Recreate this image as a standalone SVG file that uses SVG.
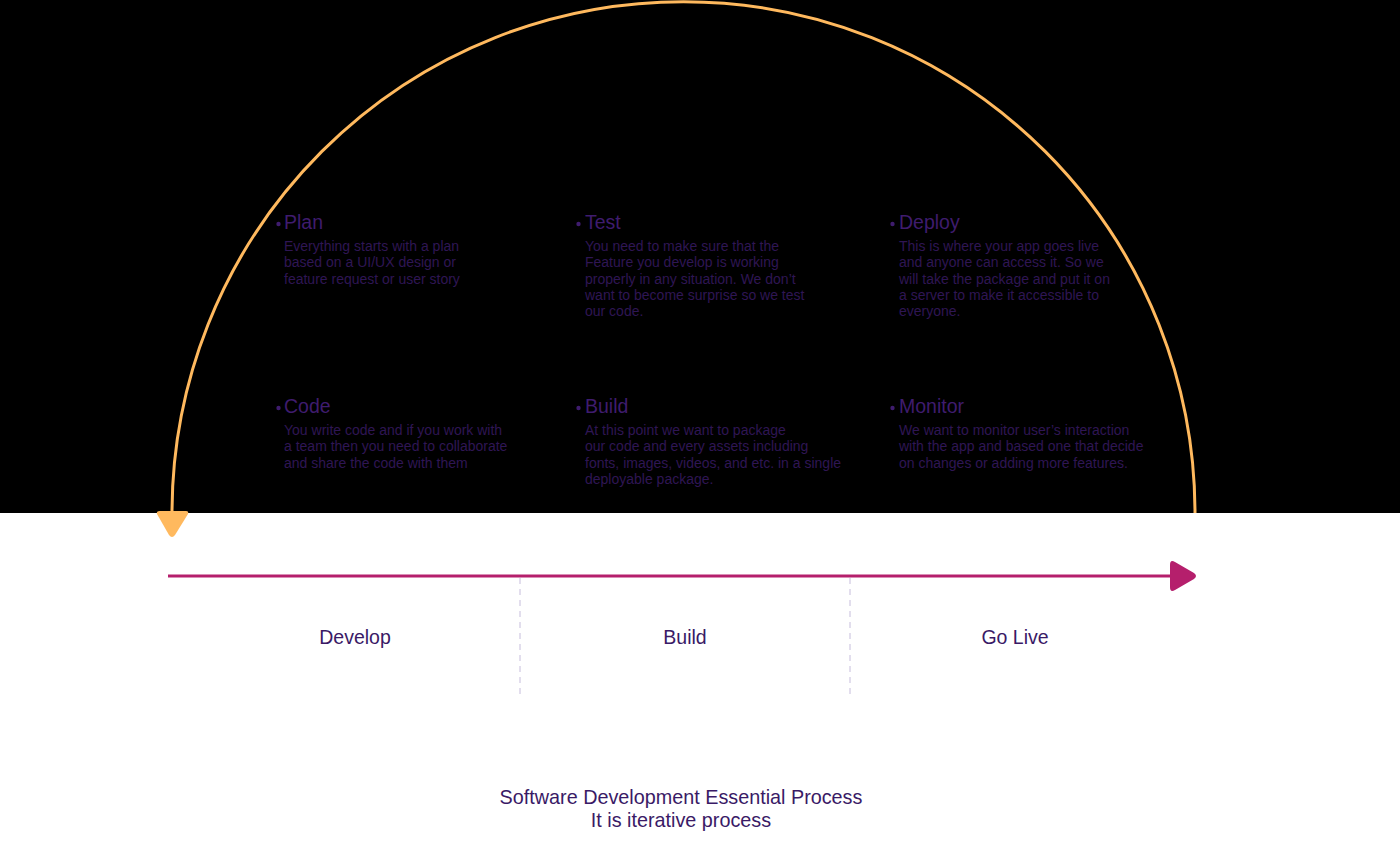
<svg xmlns="http://www.w3.org/2000/svg" width="1400" height="861" viewBox="0 0 1400 861">
  <defs>
    <style>
      .head { font-family: "Liberation Sans", Arial, sans-serif; font-size: 19.5px; fill: #3f1c6e; }
      .body { font-family: "Liberation Sans", Arial, sans-serif; font-size: 14px; fill: #2f1654; }
      .dot { fill: #3f1c6e; }
      .phase { font-family: "Liberation Sans", Arial, sans-serif; font-size: 19.5px; fill: #3a1a66; text-anchor: middle; }
      .title { font-family: "Liberation Sans", Arial, sans-serif; font-size: 19.8px; fill: #3a1a66; text-anchor: middle; }
      .divider { stroke: #c6bddc; stroke-width: 1; stroke-dasharray: 6 5; fill: none; }
    </style>
  </defs>

  <!-- backgrounds -->
  <rect x="0" y="0" width="1400" height="861" fill="#ffffff"/>
  <rect x="0" y="0" width="1400" height="513" fill="#000000"/>

  <g id="connectors">
    <!-- iteration loop: half circle returning to the start -->
    <path d="M 1195 513 A 511.5 511.5 0 0 0 172 513 L 172 516" fill="none" stroke="#ffb95e" stroke-width="3"/>
    <path d="M 160 511 L 186 511 Q 189 511 188 514 L 175 535 Q 172 539 169 535 L 157 514 Q 156 511 160 511 Z" fill="#ffb95e"/>
    <!-- timeline -->
    <line x1="168" y1="576" x2="1176" y2="576" stroke="#b51f6c" stroke-width="3"/>
    <path d="M 1170 565 Q 1170 559 1175 562 L 1194 573 Q 1198 576 1194 579 L 1175 590 Q 1170 593 1170 587 Z" fill="#b51f6c"/>
    <!-- phase dividers -->
    <line class="divider" x1="520" y1="578" x2="520" y2="695"/>
    <line class="divider" x1="850" y1="578" x2="850" y2="695"/>
  </g>

  <g id="node-plan">
    <circle class="dot" cx="278.5" cy="224" r="2.2"/>
    <text class="head" x="284" y="229">Plan</text>
    <text class="body" x="284" y="251">Everything starts with a plan</text>
    <text class="body" x="284" y="267">based on a UI/UX design or</text>
    <text class="body" x="284" y="284">feature request or user story</text>
  </g>

  <g id="node-test">
    <circle class="dot" cx="578.5" cy="224" r="2.2"/>
    <text class="head" x="585" y="229">Test</text>
    <text class="body" x="585" y="251">You need to make sure that the</text>
    <text class="body" x="585" y="267">Feature you develop is working</text>
    <text class="body" x="585" y="284">properly in any situation. We don’t</text>
    <text class="body" x="585" y="300">want to become surprise so we test</text>
    <text class="body" x="585" y="316">our code.</text>
  </g>

  <g id="node-deploy">
    <circle class="dot" cx="892.5" cy="224" r="2.2"/>
    <text class="head" x="899" y="229">Deploy</text>
    <text class="body" x="899" y="251">This is where your app goes live</text>
    <text class="body" x="899" y="267">and anyone can access it. So we</text>
    <text class="body" x="899" y="284">will take the package and put it on</text>
    <text class="body" x="899" y="300">a server to make it accessible to</text>
    <text class="body" x="899" y="316">everyone.</text>
  </g>

  <g id="node-code">
    <circle class="dot" cx="278.5" cy="408" r="2.2"/>
    <text class="head" x="284" y="413">Code</text>
    <text class="body" x="284" y="435">You write code and if you work with</text>
    <text class="body" x="284" y="451">a team then you need to collaborate</text>
    <text class="body" x="284" y="468">and share the code with them</text>
  </g>

  <g id="node-build">
    <circle class="dot" cx="578.5" cy="408" r="2.2"/>
    <text class="head" x="585" y="413">Build</text>
    <text class="body" x="585" y="435">At this point we want to package</text>
    <text class="body" x="585" y="451">our code and every assets including</text>
    <text class="body" x="585" y="468">fonts, images, videos, and etc. in a single</text>
    <text class="body" x="585" y="484">deployable package.</text>
  </g>

  <g id="node-monitor">
    <circle class="dot" cx="892.5" cy="408" r="2.2"/>
    <text class="head" x="899" y="413">Monitor</text>
    <text class="body" x="899" y="435">We want to monitor user’s interaction</text>
    <text class="body" x="899" y="451">with the app and based one that decide</text>
    <text class="body" x="899" y="468">on changes or adding more features.</text>
  </g>

  <g id="phase-labels">
    <text class="phase" x="355" y="644">Develop</text>
    <text class="phase" x="685" y="644">Build</text>
    <text class="phase" x="1015" y="644">Go Live</text>
  </g>

  <g id="caption">
    <text class="title" x="681" y="804">Software Development Essential Process</text>
    <text class="title" x="681" y="827">It is iterative process</text>
  </g>
</svg>
